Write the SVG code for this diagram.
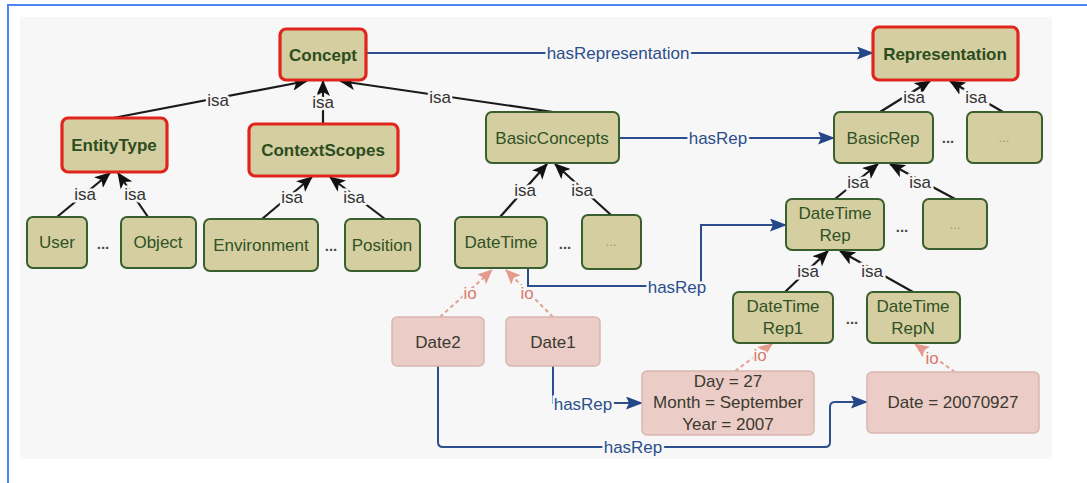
<svg xmlns="http://www.w3.org/2000/svg" width="1087" height="483" viewBox="0 0 1087 483">
<style>
text{font-family:"Liberation Sans",Arial,sans-serif;}
.g{fill:#d5cea0;stroke:#3a5f2e;stroke-width:2;}
.r{fill:#d5cea0;stroke:#e0261c;stroke-width:3.2;}
.p{fill:#ecccc6;stroke:#d7b7b1;stroke-width:1.5;}
.tb{font-size:17px;font-weight:bold;fill:#2c4d1e;text-anchor:middle;dominant-baseline:central;}
.tg{font-size:17px;fill:#2f5226;text-anchor:middle;dominant-baseline:central;}
.tp{font-size:17px;fill:#3a3a30;text-anchor:middle;dominant-baseline:central;}
.dots{font-size:15px;font-weight:bold;fill:#4a4a4a;text-anchor:middle;}
.bdots{font-size:13px;fill:#9c967c;text-anchor:middle;}
.isa{stroke:#1a1a1a;stroke-width:2.2;fill:none;marker-end:url(#ah);}
.rep{stroke:#2c4f8c;stroke-width:2;fill:none;marker-end:url(#bh);}
.io{stroke:#e3a095;stroke-width:2;stroke-dasharray:4 3;fill:none;marker-end:url(#ph);}
.li{font-size:17px;fill:#333;text-anchor:middle;dominant-baseline:central;paint-order:stroke;stroke:#f7f7f7;stroke-width:5;}
.lb{font-size:17px;fill:#2c4f8c;text-anchor:middle;dominant-baseline:central;paint-order:stroke;stroke:#f7f7f7;stroke-width:5;}
.lp{font-size:17px;fill:#d8786a;text-anchor:middle;dominant-baseline:central;paint-order:stroke;stroke:#f7f7f7;stroke-width:4;}
</style>
<defs>
<marker id="ah" markerUnits="userSpaceOnUse" markerWidth="16" markerHeight="14" refX="15" refY="7" orient="auto"><path d="M0,0 L16,7 L0,14 L4,7 z" fill="#111"/></marker>
<marker id="bh" markerUnits="userSpaceOnUse" markerWidth="17" markerHeight="13" refX="16" refY="6.5" orient="auto"><path d="M0,0 L17,6.5 L0,13 L3,6.5 z" fill="#24478a"/></marker>
<marker id="ph" markerUnits="userSpaceOnUse" markerWidth="15" markerHeight="13" refX="14" refY="6.5" orient="auto"><path d="M0,0 L15,6.5 L0,13 L3,6.5 z" fill="#e49a8c"/></marker>
</defs>
<rect x="0" y="0" width="1087" height="483" fill="#fff"/>
<rect x="20" y="17" width="1032" height="442" fill="#f7f7f7"/>
<path d="M8,483 V5 H1087" stroke="#4d86f0" stroke-width="2" fill="none"/>

<g id="connectors">
<line class="isa" x1="113" y1="118" x2="307" y2="81"/>
<line class="isa" x1="323" y1="124" x2="323" y2="81"/>
<line class="isa" x1="553" y1="112" x2="340" y2="81"/>
<line class="isa" x1="880" y1="112" x2="930" y2="81"/>
<line class="isa" x1="1003" y1="112" x2="950" y2="81"/>
<line class="isa" x1="57" y1="217" x2="110" y2="173"/>
<line class="isa" x1="148" y1="217" x2="118" y2="173"/>
<line class="isa" x1="262" y1="219" x2="312" y2="177"/>
<line class="isa" x1="385" y1="219" x2="330" y2="177"/>
<line class="isa" x1="500" y1="217" x2="547" y2="164"/>
<line class="isa" x1="611" y1="215" x2="555" y2="164"/>
<line class="isa" x1="835" y1="199" x2="878" y2="164"/>
<line class="isa" x1="955" y1="199" x2="890" y2="164"/>
<line class="isa" x1="785" y1="292" x2="828" y2="251"/>
<line class="isa" x1="913" y1="292" x2="840" y2="251"/>

<path class="rep" d="M366,53 H873"/>
<path class="rep" d="M619,138 H834"/>
<path class="rep" d="M528,268 V286 H701 V225 H786"/>
<path class="rep" d="M553,366 V403 H642"/>
<path class="rep" d="M438,366 V442 Q438,447 443,447 H825 Q830,447 830,442 V407 Q830,402 835,402 H867"/>

<path class="io" d="M440,317 L492,270"/>
<path class="io" d="M553,317 L506,270"/>
<path class="io" d="M735,371 L772,344"/>
<path class="io" d="M955,372 L915,344"/>

<text class="li" x="218" y="100">isa</text>
<text class="li" x="323" y="102">isa</text>
<text class="li" x="440" y="97">isa</text>
<text class="li" x="914" y="97">isa</text>
<text class="li" x="976" y="97">isa</text>
<text class="li" x="85" y="194">isa</text>
<text class="li" x="135" y="194">isa</text>
<text class="li" x="292" y="197">isa</text>
<text class="li" x="354" y="197">isa</text>
<text class="li" x="525" y="190">isa</text>
<text class="li" x="582" y="190">isa</text>
<text class="li" x="858" y="182">isa</text>
<text class="li" x="920" y="182">isa</text>
<text class="li" x="808" y="271">isa</text>
<text class="li" x="872" y="271">isa</text>

<text class="lb" x="618" y="53">hasRepresentation</text>
<text class="lb" x="718" y="138">hasRep</text>
<text class="lb" x="677" y="287">hasRep</text>
<text class="lb" x="583" y="404">hasRep</text>
<text class="lb" x="633" y="447">hasRep</text>

<text class="lp" x="470" y="293">io</text>
<text class="lp" x="527" y="293">io</text>
<text class="lp" x="760" y="355">io</text>
<text class="lp" x="932" y="358">io</text>
</g>

<g id="concept"><rect class="r" x="280" y="29" width="86" height="51" rx="6"/><text class="tb" x="323" y="55">Concept</text></g>
<g id="representation"><rect class="r" x="873" y="27" width="145" height="53" rx="6"/><text class="tb" x="945" y="54">Representation</text></g>
<g id="entitytype"><rect class="r" x="62" y="118" width="105" height="54" rx="6"/><text class="tb" x="114" y="145">EntityType</text></g>
<g id="contextscopes"><rect class="r" x="249" y="124" width="149" height="52" rx="6"/><text class="tb" x="323" y="150">ContextScopes</text></g>
<g id="basicconcepts"><rect class="g" x="486" y="112" width="133" height="51" rx="6"/><text class="tg" x="552" y="138">BasicConcepts</text></g>
<g id="basicrep"><rect class="g" x="834" y="112" width="99" height="51" rx="6"/><text class="tg" x="883" y="138">BasicRep</text></g>
<g id="rep-dots-sep"><text class="dots" x="948" y="143">...</text></g>
<g id="rep-other"><rect class="g" x="967" y="112" width="75" height="51" rx="6"/><text class="bdots" x="1004" y="142">...</text></g>
<g id="user"><rect class="g" x="27" y="217" width="60" height="51" rx="6"/><text class="tg" x="57" y="242">User</text></g>
<g id="entity-dots"><text class="dots" x="103" y="249">...</text></g>
<g id="object"><rect class="g" x="121" y="217" width="75" height="51" rx="6"/><text class="tg" x="158" y="242">Object</text></g>
<g id="environment"><rect class="g" x="204" y="219" width="114" height="52" rx="6"/><text class="tg" x="261" y="245">Environment</text></g>
<g id="scope-dots"><text class="dots" x="331" y="251">...</text></g>
<g id="position"><rect class="g" x="345" y="219" width="75" height="52" rx="6"/><text class="tg" x="382" y="245">Position</text></g>
<g id="datetime"><rect class="g" x="455" y="217" width="92" height="51" rx="6"/><text class="tg" x="501" y="242">DateTime</text></g>
<g id="basic-dots"><text class="dots" x="565" y="249">...</text></g>
<g id="basic-other"><rect class="g" x="582" y="215" width="59" height="54" rx="6"/><text class="bdots" x="611" y="246">...</text></g>
<g id="datetimerep"><rect class="g" x="786" y="199" width="98" height="51" rx="6"/><text class="tg" x="835" y="213">DateTime</text><text class="tg" x="835" y="235">Rep</text></g>
<g id="dtrep-dots"><text class="dots" x="902" y="232">...</text></g>
<g id="basicrep-other"><rect class="g" x="923" y="199" width="64" height="50" rx="6"/><text class="bdots" x="955" y="229">...</text></g>
<g id="datetimerep1"><rect class="g" x="733" y="292" width="100" height="51" rx="6"/><text class="tg" x="783" y="306">DateTime</text><text class="tg" x="783" y="328">Rep1</text></g>
<g id="rep1-dots"><text class="dots" x="852" y="324">...</text></g>
<g id="datetimerepn"><rect class="g" x="867" y="292" width="93" height="51" rx="6"/><text class="tg" x="913" y="306">DateTime</text><text class="tg" x="913" y="328">RepN</text></g>
<g id="date2"><rect class="p" x="392" y="317" width="92" height="49" rx="5"/><text class="tp" x="438" y="342">Date2</text></g>
<g id="date1"><rect class="p" x="506" y="317" width="94" height="49" rx="5"/><text class="tp" x="553" y="342">Date1</text></g>
<g id="day-month-year"><rect class="p" x="642" y="371" width="172" height="64" rx="5"/><text class="tp" x="728" y="381">Day = 27</text><text class="tp" x="728" y="402">Month = September</text><text class="tp" x="728" y="424">Year = 2007</text></g>
<g id="date-value"><rect class="p" x="867" y="372" width="172" height="61" rx="5"/><text class="tp" x="953" y="402">Date = 20070927</text></g>
</svg>
